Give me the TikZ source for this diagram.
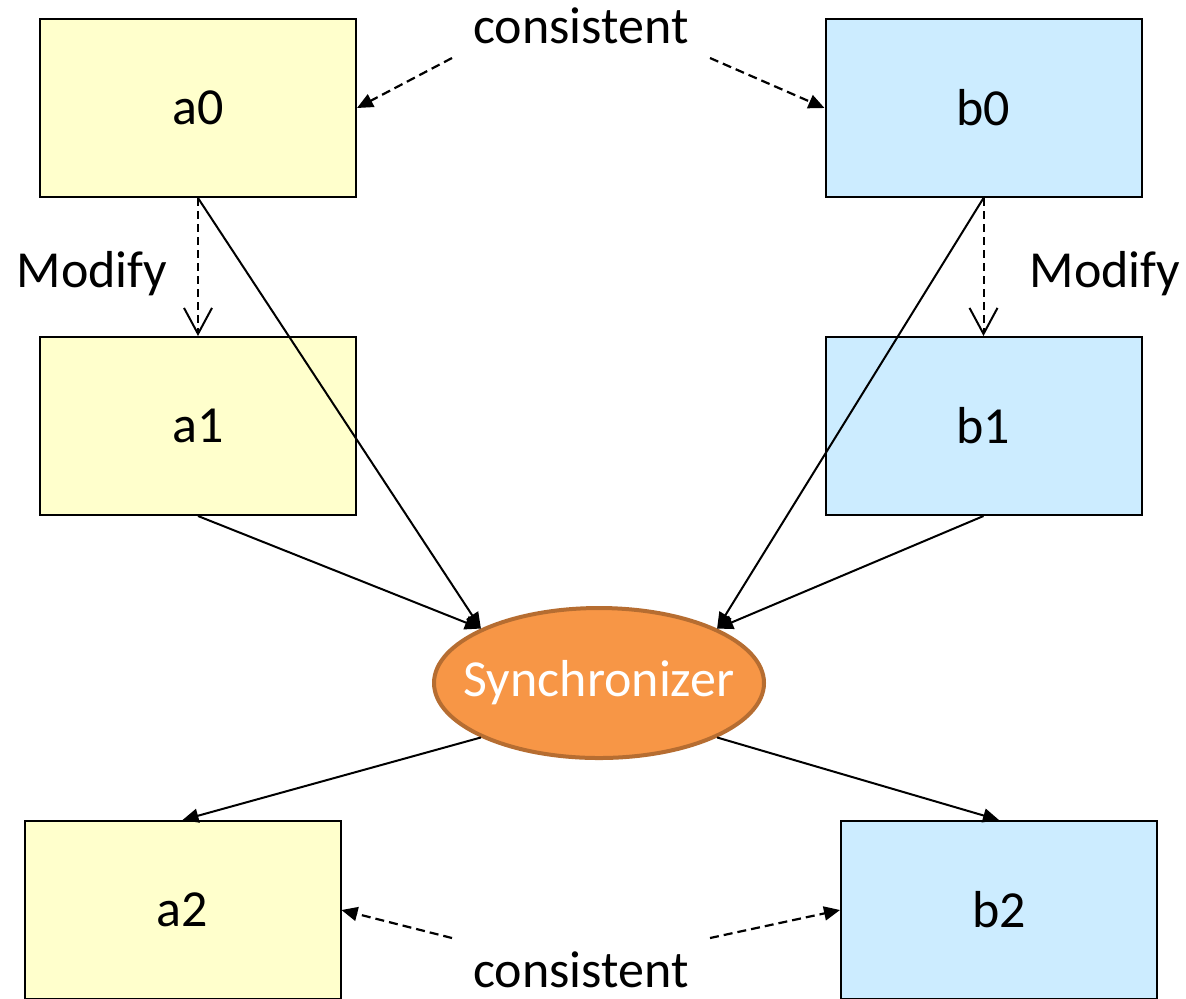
\documentclass[tikz,border=0pt]{standalone}
\usepackage{fontspec}
\setmainfont{Carlito}
\usepackage{tikz}
\usetikzlibrary{shapes, arrows.meta, positioning}
\definecolor{amarillo}{HTML}{FFFFCC}
\definecolor{celeste}{HTML}{CCECFF}
\definecolor{naranja}{HTML}{F79646}
\definecolor{naranjaborde}{HTML}{B66D31}
\tikzstyle{caja} = [draw=black, line width=1pt, rectangle, minimum width=158pt, minimum height=89pt, font=\fontsize{26}{30}\selectfont]
\tikzstyle{cajaamarilla} = [caja, fill=amarillo]
\tikzstyle{cajaazul} = [caja, fill=celeste]
\tikzstyle{sincronizador} = [draw=naranjaborde, fill=naranja, line width=2pt, ellipse, inner sep=0pt, minimum width=165pt, minimum height=75pt, text=white, font=\fontsize{26}{30}\selectfont]
\tikzstyle{etiqueta} = [anchor=base, inner sep=0pt, font=\fontsize{26}{30}\selectfont]
\tikzstyle{flecha} = [line width=1pt, -{Triangle[length=8pt, width=7pt]}]
\tikzstyle{consistencia} = [line width=1.1pt, dash pattern=on 4.5pt off 2.5pt, -{Triangle[length=8pt, width=7pt]}]
\tikzstyle{modifica} = [line width=1pt, dash pattern=on 4pt off 2.5pt, -{Straight Barb[length=13pt, width=14pt, line width=1pt]}]

\begin{document}
\begin{tikzpicture}[x=0.5pt, y=-0.5pt]
	\useasboundingbox (0,0) rectangle (1186,998);
	\clip (0,0) rectangle (1186,998);
	% modelos
	\node [cajaamarilla] (a0) at (198,108) {a0};
	\node [cajaazul] (b0) at (983.5,108) {b0};
	\node [cajaamarilla] (a1) at (198,426) {a1};
	\node [cajaazul] (b1) at (983.5,426) {b1};
	\node [cajaamarilla] (a2) at (182.5,910) {a2};
	\node [cajaazul] (b2) at (999,910) {b2};
	\node [sincronizador] (sync) at (599,683) {\makebox[0pt]{Synchronizer}};
	% textos
	\node [etiqueta] (consarriba) at (581,43) {consistent};
	\node [etiqueta] (consabajo) at (581,987) {consistent};
	\node [etiqueta] (modizq) at (92,287) {Modify};
	\node [etiqueta] (modder) at (1105,287) {Modify};
	\coordinate (c1) at (452,58);
	\coordinate (c2) at (710,58);
	\coordinate (c3) at (452,938);
	\coordinate (c4) at (710,938);
	% flechas
	\draw [consistencia] (c1) -- (a0.east);
	\draw [consistencia] (c2) -- (b0.west);
	\draw [consistencia] (c3) -- (a2.east);
	\draw [consistencia] (c4) -- (b2.west);
	\draw [modifica] (a0.south) -- (a1.north);
	\draw [modifica] (b0.south) -- (b1.north);
	\draw [flecha] (a0.south) -- (sync.north west);
	\draw [flecha] (a1.south) -- (sync.north west);
	\draw [flecha] (b0.south) -- (sync.north east);
	\draw [flecha] (b1.south) -- (sync.north east);
	\draw [flecha] (sync.south west) -- (a2.north);
	\draw [flecha] (sync.south east) -- (b2.north);
\end{tikzpicture}
\end{document}
